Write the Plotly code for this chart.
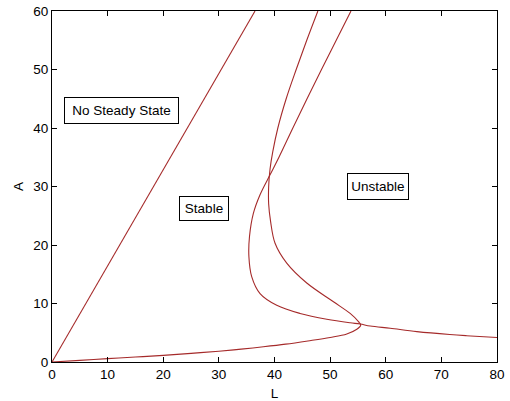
import plotly.graph_objects as go

# Boundary of the "no steady state" region: straight line from the origin
line_L = [0.0, 36.5]
line_A = [0.0, 60.0]

# Fold curve: enters from the top, folds at the nose and returns to the origin
fold_L = [47.8, 45.8, 43.9, 42.1, 40.6, 39.7, 39.2, 38.95, 38.95, 39.3, 40.1, 42.2, 45.8,
          50.6, 53.6, 55.1, 55.5, 54.8, 53.0, 50.0, 46.0, 42.0, 38.0, 34.0, 30.0,
          25.0, 20.0, 15.0, 10.0, 5.0, 0.0]
fold_A = [60.0, 55.0, 50.0, 45.0, 40.0, 36.0, 33.0, 30.0, 27.0, 24.0, 20.3, 16.9, 13.5,
          10.3, 8.3, 6.9, 6.3, 5.6, 4.8, 4.2, 3.6, 3.05, 2.6, 2.2, 1.85,
          1.48, 1.14, 0.85, 0.57, 0.28, 0.0]

# S-shaped stability curve: enters from the top, bends left and runs out to L = 80
s_L = [53.75, 51.1, 48.45, 45.85, 43.3, 40.8, 39.2, 37.4, 36.2, 35.5, 35.4, 35.9,
       37.4, 40.4, 44.6, 49.4, 53.6, 55.4, 57.2, 60.8, 65.6, 71.5, 74.5, 80.0]
s_A = [60.0, 55.0, 50.0, 45.0, 40.0, 35.0, 32.0, 28.6, 25.4, 21.4, 18.0, 14.6,
       11.7, 9.7, 8.3, 7.3, 6.7, 6.5, 6.15, 5.76, 5.2, 4.7, 4.5, 4.2]

# Region labels with their box sizes (px)
region_text = ["No Steady State", "Stable", "Unstable"]
region_L = [12.5, 27.3, 58.6]
region_A = [43.0, 26.2, 30.0]
box_w = [113, 48, 60]
box_h = [25, 23, 25]

color = "#a52a2a"
font = dict(family="Liberation Sans, Arial, sans-serif", size=13.5, color="black")

fig = go.Figure()
fig.add_trace(go.Scatter(x=line_L, y=line_A, mode="lines",
                         line=dict(color=color, width=1.1), showlegend=False))
fig.add_trace(go.Scatter(x=fold_L, y=fold_A, mode="lines",
                         line=dict(color=color, width=1.1, shape="spline", smoothing=1.0),
                         showlegend=False))
fig.add_trace(go.Scatter(x=s_L, y=s_A, mode="lines",
                         line=dict(color=color, width=1.1, shape="spline", smoothing=1.0),
                         showlegend=False))

for txt, xl, ya, w, h in zip(region_text, region_L, region_A, box_w, box_h):
    fig.add_annotation(x=xl, y=ya, text=txt, showarrow=False, font=font,
                       width=w, height=h, align="center", valign="middle",
                       bgcolor="white", bordercolor="black", borderwidth=1, borderpad=0)

axis_common = dict(showgrid=False, zeroline=False, showline=True, linecolor="black",
                   linewidth=1, mirror="allticks", ticks="inside", ticklen=5,
                   tickcolor="black", tickfont=font, automargin=False)

fig.update_xaxes(range=[0, 80], tickvals=list(range(0, 81, 10)),
                 title=dict(text="L", font=font, standoff=8), **axis_common)
fig.update_yaxes(range=[0, 60], tickvals=list(range(0, 61, 10)),
                 title=dict(text="A", font=font, standoff=6), **axis_common)

fig.update_layout(width=510, height=401, margin=dict(l=52, r=13, t=11, b=39),
                  plot_bgcolor="white", paper_bgcolor="white", font=font)

fig.write_html("out.html")
